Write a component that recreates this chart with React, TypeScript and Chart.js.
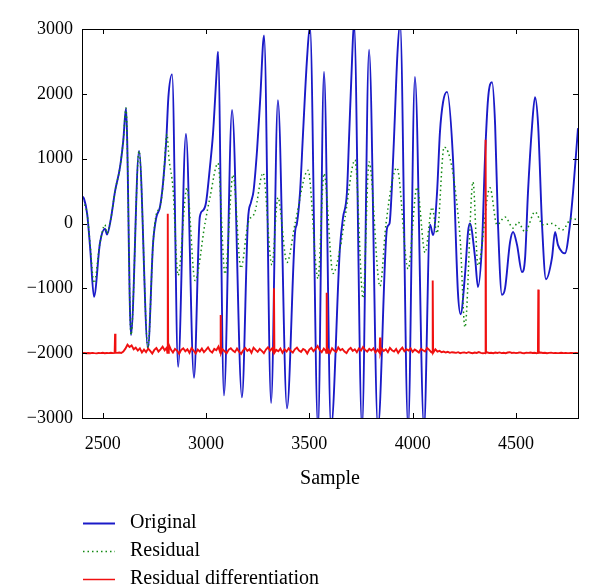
import React, { useEffect, useRef } from "react";
import { Chart, registerables } from "chart.js";

Chart.register(...registerables);

// ---------------- data ----------------
const originalX = [
  2400, 2410, 2425, 2440, 2458, 2487, 2511, 2521, 2540, 2560, 2584, 2600, 2613, 2637, 2676, 2719,
  2744, 2760, 2777, 2792, 2808, 2818, 2836, 2865, 2903, 2942, 2970, 2985, 3000, 3019, 3034, 3053,
  3058, 3087, 3126, 3174, 3203, 3218, 3230, 3247, 3262, 3281, 3315, 3348, 3392, 3431, 3440, 3455,
  3469, 3489, 3503, 3542, 3571, 3605, 3648, 3663, 3682, 3692, 3707, 3716, 3755, 3789, 3832, 3876,
  3888, 3900, 3912, 3926, 3939, 3978, 4011, 4055, 4084, 4099, 4118, 4132, 4147, 4166, 4195, 4219,
  4232, 4253, 4268, 4277, 4302, 4316, 4336, 4350, 4365, 4384, 4399, 4413, 4432, 4447, 4471, 4486,
  4505, 4529, 4544, 4558, 4578, 4592, 4607, 4626, 4645, 4674, 4689, 4703, 4723, 4737, 4761, 4776,
  4800,
];
const originalY = [
  420, 380, 150, -400, -1130, -300, -80, -170, 80, 500, 870, 1290, 1780, -1720, 1120, -1920,
  -300, 100, 250, 620, 1290, 1950, 2300, -2210, 1380, -2380, 100, 200, 320, 870, 1390, 2420,
  2650, -2650, 1750, -2680, 50, 330, 500, 1130, 1900, 2900, -2770, 1900, -2850, -130, 0, 480,
  1360, 2550, 3050, -3150, 2340, -3150, -380, 90, 480, 1300, 2550, 3100, -3150, 2680, -3150, -70,
  0, 600, 1500, 2600, 3100, -3150, 2260, -3150, -20, -180, 480, 1410, 1870, 2030, 1010, -1060,
  -1400, -800, -130, 0, -530, -980, -290, 1010, 1930, 2180, 1520, -20, -1100, -1000, -290, -130,
  -330, -750, -530, 480, 1520, 1950, 1520, -20, -860, -530, -130, -330, -440, -460, -20, 480,
  1470,
];

const residualX = [
  2400, 2425, 2440, 2458, 2487, 2511, 2521, 2540, 2560, 2584, 2600, 2613, 2637, 2676, 2719, 2744,
  2760, 2777, 2792, 2811, 2821, 2840, 2865, 2908, 2947, 2995, 3019, 3058, 3092, 3131, 3169, 3203,
  3237, 3276, 3319, 3348, 3392, 3431, 3494, 3542, 3571, 3615, 3648, 3673, 3721, 3760, 3789, 3842,
  3871, 3924, 3978, 4021, 4060, 4094, 4118, 4152, 4229, 4253, 4292, 4316, 4374, 4408, 4447, 4486,
  4510, 4544, 4592, 4631, 4674, 4723, 4771, 4800,
];
const residualY = [
  350, 150, -350, -920, -300, -20, -150, 80, 500, 870, 1290, 1780, -1720, 1120, -1920, -300,
  150, 250, 590, 1380, 1000, 550, -800, 550, -880, 0, 400, 930, -780, 750, -690, 0,
  180, 780, -640, 400, -600, 0, 820, -850, 770, -770, -400, 100, 980, -1150, 950, -970,
  0, 860, -700, 560, -450, 250, -150, 1180, -200, -1600, 640, -650, 550, -20, 100, -70,
  20, -130, 180, -20, 0, -100, 80, 50,
];

// Residual differentiation: one value every diffStep samples from diffStart
const diffStart = 2400;
const diffStep = 10;
const diffBase = -1995;
const diffNoise = [
  // 2400 - 2590
  -2000, -1996, -2002, -1998, -2001, -1995, -2000, -2003, -1997, -1999,
  -1994, -2001, -1998, -2000, -1993, -1999, -2002, -1996, -1990, -1998,
  // 2600 - 2990
  -1975, -1930, -1870, -1905, -1880, -1940, -1915, -1960, -1925, -1990,
  -1945, -1985, -1930, -1965, -2005, -1950, -1920, -1975, -1940, -1900,
  -1955, -1915, -1870, -1945, -1990, -1935, -1960, -2010, -1950, -1925,
  -1970, -1940, -1995, -1920, -1960, -2005, -1945, -1975, -1930, -1985,
  // 3000 - 3390
  -1950, -1910, -1965, -1990, -1935, -1955, -1900, -1880, -1940, -1970,
  -2000, -1945, -1925, -1960, -1985, -1930, -1975, -2010, -1955, -1920,
  -1965, -1940, -1995, -1915, -1950, -1980, -1935, -1965, -2000, -1945,
  -1910, -1960, -1925, -1985, -1950, -1970, -1930, -1995, -1940, -1975,
  // 3400 - 3790
  -1925, -1965, -1990, -1940, -1915, -1960, -1980, -1935, -1955, -2005,
  -1945, -1920, -1970, -1935, -1890, -1950, -1985, -1930, -1965, -1940,
  -1995, -1925, -1960, -1980, -1910, -1955, -1935, -1975, -2000, -1945,
  -1920, -1965, -1940, -1985, -1930, -1960, -1905, -1950, -1975, -1935,
  // 3800 - 4190
  -1960, -1925, -1990, -1945, -1940, -1930, -1965, -1940, -1985, -1920,
  -1955, -1975, -1935, -1995, -1950, -1915, -1970, -1940, -1960, -1925,
  -1980, -1945, -1965, -1990, -1935, -1955, -1975, -1920, -1950, -1985,
  -1960, -1940, -1975, -1965, -1985, -1975, -1990, -1980, -1995, -1985,
  // 4200 - 4800
  -1990, -1995, -1985, -2000, -1992, -1988, -1998, -1985, -1994, -2000,
  -1990, -1996, -1984, -1995, -2000, -1990, -1986, -1997, -1993, -2000,
  -1991, -1996, -1988, -1999, -1994, -2000, -1990, -1985, -1996, -1992,
  -1999, -1994, -1988, -1997, -2000, -1992, -1996, -1990, -1998, -1994,
  -2000, -1995, -1991, -1998, -1993, -2000, -1996, -1992, -1999, -1995,
  -2000, -1997, -1993, -1999, -1996, -2000, -1998, -1995, -2000, -1997,
  -2000,
];
const diffSpikeX = [2560, 2815, 3071, 3329, 3584, 3842, 4097, 4353, 4608];
const diffSpikeY = [-1700, 150, -1410, -1000, -1070, -1760, -880, 1290, -1020];

const xTicks = [2500, 3000, 3500, 4000, 4500];
const yTicks = [-3000, -2000, -1000, 0, 1000, 2000, 3000];
const xTitle = "Sample";
const legendLabels = ["Original", "Residual", "Residual differentiation"];

// ---------------- styles ----------------
const FONT = "'Liberation Serif', 'Times New Roman', serif";
const BLUE = "#1a1ac8";
const GREEN = "#138a13";
const RED = "#f01010";

function buildRed() {
  const pts: { x: number; y: number }[] = [];
  diffNoise.forEach((v, i) => {
    const x = diffStart + i * diffStep;
    if (diffSpikeX.some((s) => Math.abs(s - x) < 4)) return;
    pts.push({ x, y: v });
  });
  diffSpikeX.forEach((s, i) => {
    pts.push({ x: s - 2, y: diffBase });
    pts.push({ x: s, y: diffSpikeY[i] });
    pts.push({ x: s + 2, y: diffBase });
  });
  pts.sort((a, b) => a.x - b.x);
  return pts;
}

const fmt = (v: number) => (v < 0 ? "\u2212" + Math.abs(v) : String(v));

const framePlugin = {
  id: "frame",
  afterDraw(chart: any) {
    const { ctx, chartArea, scales } = chart;
    const { left, right, top, bottom } = chartArea;
    ctx.save();
    ctx.strokeStyle = "#000";
    ctx.lineWidth = 1;
    ctx.strokeRect(left + 0.5, top + 0.5, right - left, bottom - top);
    const tl = 5;
    ctx.beginPath();
    xTicks.forEach((v) => {
      const px = Math.round(scales.x.getPixelForValue(v)) + 0.5;
      ctx.moveTo(px, bottom);
      ctx.lineTo(px, bottom - tl);
      ctx.moveTo(px, top);
      ctx.lineTo(px, top + tl);
    });
    yTicks.forEach((v) => {
      const py = Math.round(scales.y.getPixelForValue(v)) + 0.5;
      ctx.moveTo(left, py);
      ctx.lineTo(left + tl, py);
      ctx.moveTo(right, py);
      ctx.lineTo(right - tl, py);
    });
    ctx.stroke();

    // axis title
    ctx.fillStyle = "#000";
    ctx.font = `20px ${FONT}`;
    ctx.textAlign = "center";
    ctx.textBaseline = "middle";
    ctx.fillText(xTitle, (left + right) / 2, 479);

    // legend
    const rows = [523, 551, 579];
    const styles = [
      { color: BLUE, width: 2, dash: [] as number[] },
      { color: GREEN, width: 1.5, dash: [1.5, 3] },
      { color: RED, width: 1.5, dash: [] as number[] },
    ];
    ctx.textAlign = "left";
    legendLabels.forEach((lab, i) => {
      const y = rows[i];
      const st = styles[i];
      ctx.beginPath();
      ctx.strokeStyle = st.color;
      ctx.lineWidth = st.width;
      ctx.setLineDash(st.dash);
      ctx.moveTo(83, y + 0.5);
      ctx.lineTo(115, y + 0.5);
      ctx.stroke();
      ctx.setLineDash([]);
      ctx.fillStyle = "#000";
      ctx.fillText(lab, 130, y);
    });
    ctx.restore();
  },
};

export default function App() {
  const ref = useRef<HTMLCanvasElement | null>(null);

  useEffect(() => {
    document.body.style.margin = "0";
    const canvas = ref.current;
    if (!canvas) return;
    const bottomPad = 100;
    const chart = new Chart(canvas, {
      type: "line",
      data: {
        datasets: [
          {
            label: legendLabels[0],
            data: originalX.map((x, i) => ({ x, y: originalY[i] })),
            borderColor: BLUE,
            borderWidth: 1.9,
            pointRadius: 0,
            cubicInterpolationMode: "monotone",
            order: 2,
          },
          {
            label: legendLabels[1],
            data: residualX.map((x, i) => ({ x, y: residualY[i] })),
            borderColor: GREEN,
            borderWidth: 1.5,
            borderDash: [1.5, 3],
            pointRadius: 0,
            cubicInterpolationMode: "monotone",
            order: 1,
          },
          {
            label: legendLabels[2],
            data: buildRed(),
            borderColor: RED,
            borderWidth: 1.9,
            pointRadius: 0,
            tension: 0,
            order: 0,
          },
        ],
      },
      options: {
        responsive: false,
        animation: false,
        events: [],
        layout: { padding: { top: 29, right: 22, left: 0, bottom: bottomPad } },
        plugins: {
          legend: { display: false },
          title: { display: false },
          tooltip: { enabled: false },
        },
        scales: {
          x: {
            type: "linear",
            min: 2400,
            max: 4800,
            grid: { display: false, drawTicks: false },
            border: { display: false },
            afterBuildTicks: (s: any) => {
              s.ticks = xTicks.map((v) => ({ value: v }));
            },
            afterFit: (s: any) => {
              s.height = 585 - 418 - bottomPad;
            },
            ticks: {
              color: "#000",
              font: { family: FONT, size: 18 },
              padding: 15,
              maxRotation: 0,
              callback: (v: any) => fmt(Number(v)),
            },
          },
          y: {
            type: "linear",
            min: -3000,
            max: 3000,
            grid: { display: false, drawTicks: false },
            border: { display: false },
            afterBuildTicks: (s: any) => {
              s.ticks = yTicks.map((v) => ({ value: v }));
            },
            afterFit: (s: any) => {
              s.width = 82;
            },
            ticks: {
              color: "#000",
              font: { family: FONT, size: 18 },
              padding: 9,
              callback: (v: any) => fmt(Number(v)),
            },
          },
        },
      },
      plugins: [framePlugin],
    } as any);
    return () => chart.destroy();
  }, []);

  return (
    <div style={{ width: 600, height: 585 }}>
      <canvas ref={ref} width={600} height={585} style={{ display: "block" }} />
    </div>
  );
}
